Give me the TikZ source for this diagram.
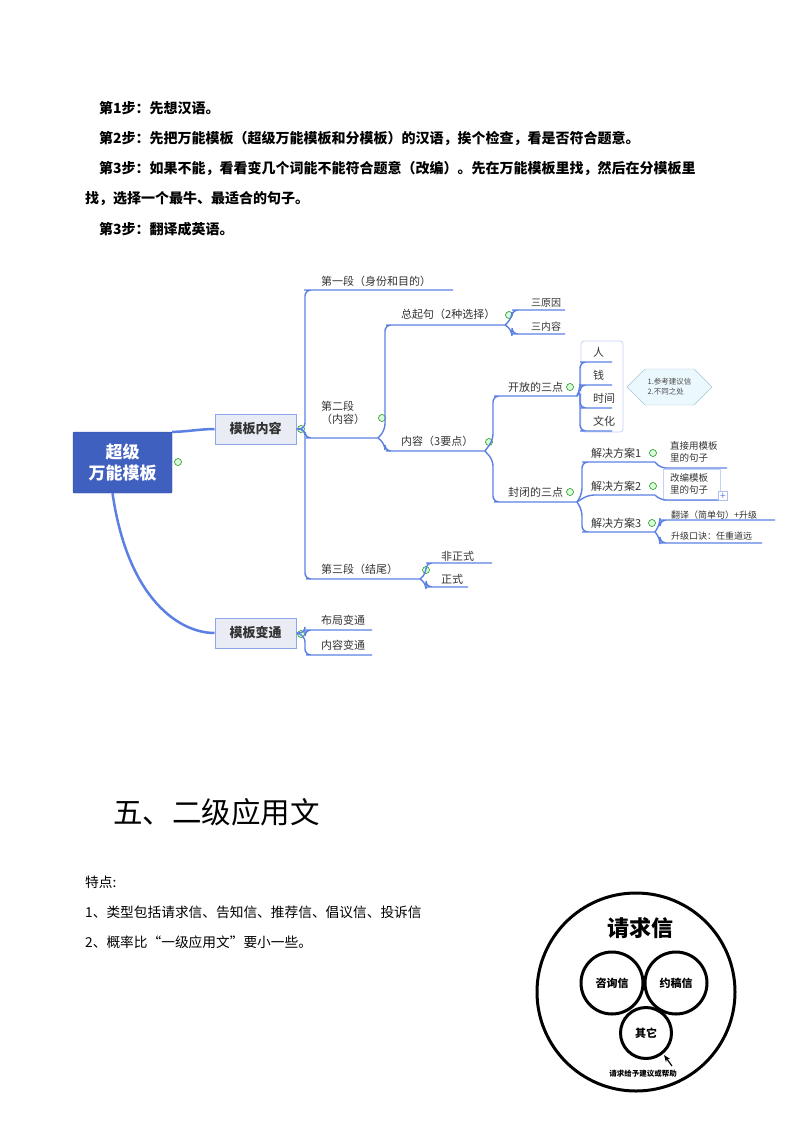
\documentclass[tikz,border=0pt]{standalone}
\usepackage{fontspec}
\setmainfont{Noto Sans CJK SC}
\usetikzlibrary{shapes.geometric,shapes.symbols,arrows.meta}
\definecolor{br}{HTML}{5C7FE3}
\definecolor{rootc}{HTML}{4060C0}
\definecolor{boxc}{HTML}{E9ECF4}
\tikzset{
 br/.style={draw=br,line width=1.4pt,rounded corners=6pt},
 lf/.style={inner sep=1pt,anchor=base west,font=\fontsize{11}{13}\selectfont,text=black!80},
 mn/.style={circle,draw=green!50!black,fill=green!15,inner sep=0pt,minimum size=7pt,line width=0.5pt},
 cbox/.style={draw=br!70,fill=boxc,line width=1pt,minimum width=81pt,minimum height=30pt,font=\fontsize{13}{15}\selectfont\bfseries,text=black!80},
 body/.style={anchor=base west,inner sep=0pt,font=\fontsize{14}{16}\selectfont\bfseries},
 txt/.style={anchor=base west,inner sep=0pt,font=\fontsize{13.7}{16}\selectfont},
 ring/.style={draw,line width=3pt,circle,inner sep=0pt}
}
\begin{document}
\begin{tikzpicture}[x=1pt,y=-1pt]
\useasboundingbox (0,0) rectangle (800,1132);
% top text
\node[body] (s1) at (99,113) {第1步：先想汉语。};
\node[body] (s2) at (99,143) {第2步：先把万能模板（超级万能模板和分模板）的汉语，挨个检查，看是否符合题意。};
\node[body] (s3) at (99,173) {第3步：如果不能，看看变几个词能不能符合题意（改编）。先在万能模板里找，然后在分模板里};
\node[body] (s3b) at (85,203) {找，选择一个最牛、最适合的句子。};
\node[body] (s4) at (99,234) {第3步：翻译成英语。};
% root
\node[fill=rootc,draw=rootc!80!black,minimum width=99pt,minimum height=61pt,align=center,text=white,font=\fontsize{17}{21}\selectfont\bfseries,rounded corners=1pt] (root) at (122.5,462.5) {超级\\万能模板};
\node[mn] (m0) at (178,462) {};
\node[cbox] (c1) at (255.5,429) {模板内容};
\node[cbox] (c2) at (255.5,633) {模板变通};
\draw[draw=br,line width=2.5pt] (root.north east) .. controls (185,432) and (200,429) .. (c1.west);
\draw[draw=br,line width=2.5pt] (root.south) ++(-10,0) coordinate (rb) .. controls (128,600) and (180,633) .. (c2.west);
\node[mn] (m1) at (301,429) {};
\node[mn] (m2) at (301,634) {};
% level 2 of c1
\node[lf] (a1) at (320,285) {第一段（身份和目的）};
\node[lf,align=left,anchor=north west] (a2) at (320,400) {第二段\\（内容）};
\node[lf] (a3) at (320,573) {第三段（结尾）};
\draw[br] (c1.east) -- (305,429) |- (310,290) -- (453,290);
\draw[br] (c1.east) -- (305,429) |- (312,438) -- (378,438);
\draw[br] (c1.east) -- (305,429) |- (312,579) -- (420,579);
\node[mn] (m3) at (382,418) {};
\node[lf] (b1) at (400,318) {总起句（2种选择）};
\node[lf] (b2) at (400,445) {内容（3要点）};
\draw[br] (378,438) -- (385,430) |- (392,325) -- (505,325);
\draw[br] (378,438) -- (385,444) |- (392,451) -- (485,451);
\node[mn] (m4) at (509,315) {};
\node[lf,font=\fontsize{10}{12}\selectfont] (d1) at (530,306) {三原因};
\node[lf,font=\fontsize{10}{12}\selectfont] (d2) at (530,330) {三内容};
\draw[br] (505,325) -- (512,318) |- (518,310) -- (565,310);
\draw[br] (505,325) -- (512,330) |- (518,334) -- (565,334);
\node[mn] (m5) at (489,442) {};
\node[lf] (e1) at (507,391) {开放的三点};
\node[lf] (e2) at (507,496) {封闭的三点};
\draw[br] (485,451) -- (493,440) |- (500,396) -- (577,396);
\draw[br] (485,451) -- (493,460) |- (500,502) -- (577,502);
% open three
\node[mn] (m6) at (570,387) {};
\node[draw=br!35,rounded corners=3pt,minimum width=42pt,minimum height=91pt,line width=0.8pt] (ob) at (602,386.5) {};
\node[lf] (f1) at (592,356) {人};
\node[lf] (f2) at (592,379) {钱};
\node[lf] (f3) at (592,402) {时间};
\node[lf] (f4) at (592,425) {文化};
\foreach \y in {362,385,408,431}{\draw[br] (577,396) -- (580,390) |- (586,\y) -- (612,\y);}
\node[signal,signal to=west and east,draw=cyan!40!gray!60,fill=cyan!8,minimum width=85pt,minimum height=36pt,inner sep=1pt,align=left,font=\fontsize{7.5}{10}\selectfont,text=black!70] (call) at (669.5,387) {1.参考建议信\\2.不同之处};
% closed three
\node[mn] (m7) at (570,492) {};
\node[lf] (g1) at (590,457) {解决方案1};
\node[lf] (g2) at (590,490) {解决方案2};
\node[lf] (g3) at (590,527) {解决方案3};
\draw[br] (577,502) -- (582,494) |- (588,462) -- (655,462);
\draw[br] (577,502) -- (588,495) -- (655,495);
\draw[br] (577,502) -- (582,510) |- (588,532) -- (655,532);
\node[mn] (m8) at (653,453) {};
\node[mn] (m9) at (653,486) {};
\node[mn] (m10) at (652,523) {};
\node[lf,align=left,anchor=north west,font=\fontsize{9.5}{12}\selectfont] (h1) at (669,440) {直接用模板\\里的句子};
\node[draw=br!35,minimum width=57pt,minimum height=31pt,line width=0.8pt] (hb) at (691.5,485) {};
\node[lf,align=left,anchor=north west,font=\fontsize{9.5}{12}\selectfont] (h2) at (669,472) {改编模板\\里的句子};
\node[draw=br!50,fill=white,minimum size=9pt,inner sep=0pt,font=\fontsize{10}{10}\selectfont,text=br] (pl) at (723,496) {+};
\node[lf,font=\fontsize{9}{11}\selectfont] (h3) at (670,518) {翻译（简单句）+升级};
\node[lf,font=\fontsize{9}{11}\selectfont] (h4) at (670,539) {升级口诀：任重道远};
\draw[br] (655,462) -- (660,468) -- (727,468);
\draw[br] (655,495) -- (660,500) -- (718,500);
\draw[br] (655,532) -- (660,524) |- (665,520) -- (775,520);
\draw[br] (655,532) -- (660,538) |- (665,543) -- (762,543);
% third para
\node[mn] (m11) at (426,570) {};
\node[lf] (k1) at (440,560) {非正式};
\node[lf] (k2) at (440,583) {正式};
\draw[br] (420,579) -- (426,574) |- (432,563) -- (492,563);
\draw[br] (420,579) -- (426,583) |- (432,587) -- (468,587);
% c2
\node[lf] (l1) at (320,624) {布局变通};
\node[lf] (l2) at (320,649) {内容变通};
\draw[br] (c2.east) -- (305,633) |- (312,630) -- (372,630);
\draw[br] (c2.east) -- (305,636) |- (312,655) -- (372,655);
% section
\node[anchor=base west,inner sep=0,font=\fontsize{29.5}{33}\selectfont] (t) at (113,823) {五、二级应用文};
\node[txt] (p0) at (85,887) {特点:};
\node[txt] (p1) at (85,917) {1、类型包括请求信、告知信、推荐信、倡议信、投诉信};
\node[txt] (p2) at (85,947) {2、概率比“一级应用文”要小一些。};
% circles
\node[ring,minimum size=198pt] (big) at (636,992) {};
\node[font=\fontsize{22}{24}\selectfont\bfseries] (qq) at (640,928) {请求信};
\node[ring,minimum size=62pt,font=\fontsize{11}{12}\selectfont\bfseries] (z1) at (612,983) {咨询信};
\node[ring,minimum size=62pt,font=\fontsize{11}{12}\selectfont\bfseries] (z2) at (676,983) {约稿信};
\node[ring,minimum size=51pt,font=\fontsize{11}{12}\selectfont\bfseries] (z3) at (646,1033) {其它};
\coordinate (ct) at (672,1066);
\draw[-{Stealth[length=7pt]},line width=1.2pt] (ct) -- (664,1055);
\node[font=\fontsize{7.5}{8}\selectfont\bfseries] (bt) at (643,1074) {请求给予建议或帮助};
\end{tikzpicture}
\end{document}
